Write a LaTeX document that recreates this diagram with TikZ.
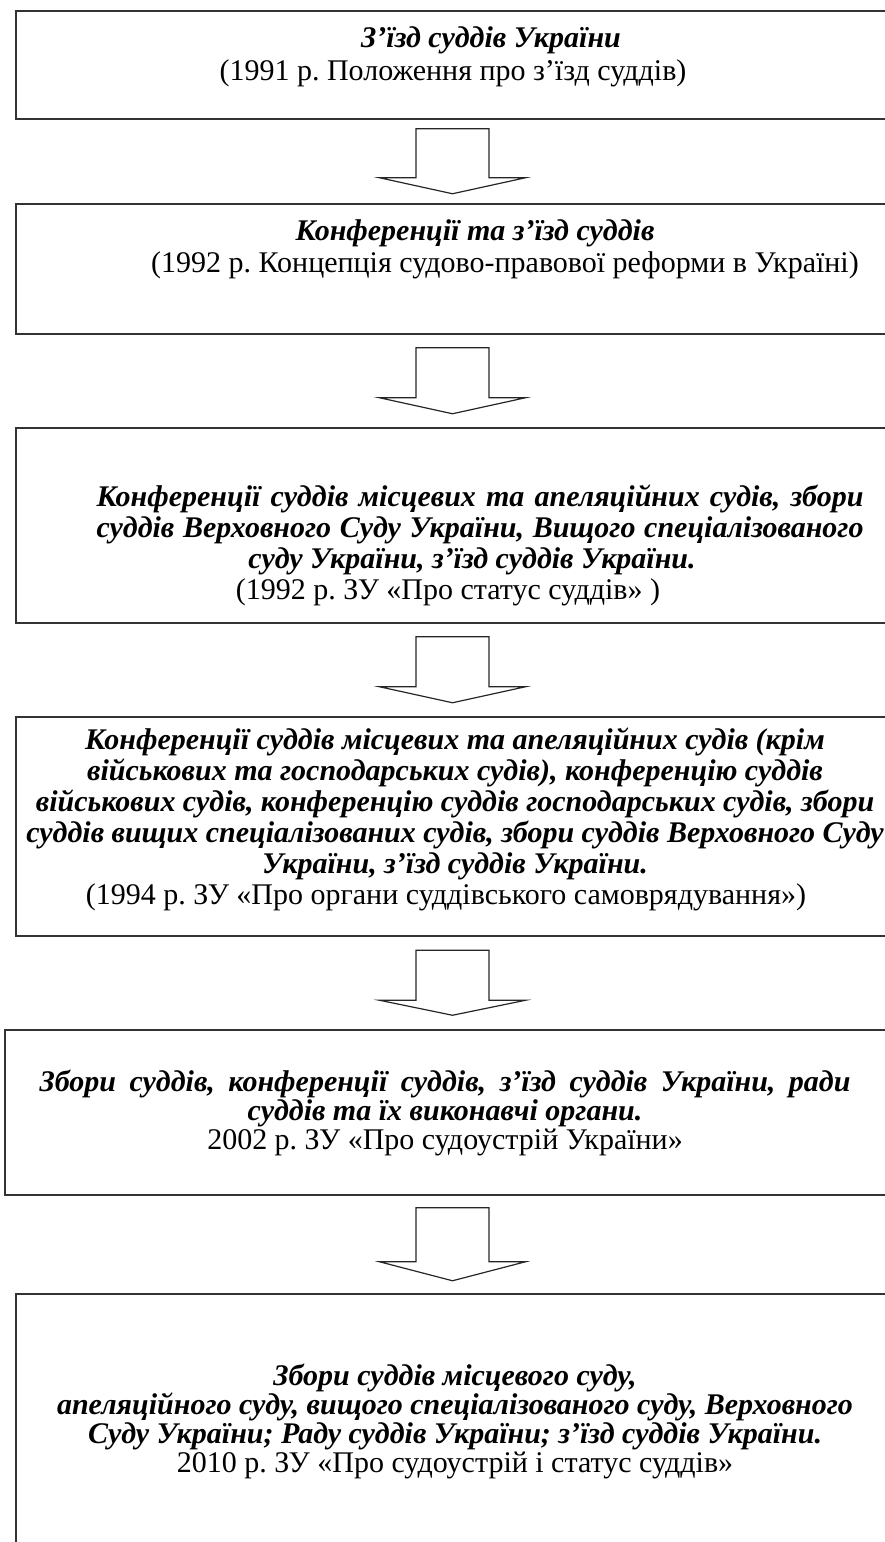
\documentclass[tikz,border=0pt]{standalone}
\usepackage{fontspec}
\setmainfont{Liberation Serif}
\usetikzlibrary{calc}

\begin{document}
\begin{tikzpicture}[x=1pt,y=-1pt,
    panel/.style={draw=black!80, line width=1.5pt, anchor=north west, minimum width=900pt, inner sep=0pt},
    body/.style={font=\fontsize{30}{31}\selectfont\frenchspacing\bfseries\itshape, align=center, inner sep=0pt},
    flow/.style={draw=black!85, line width=1.2pt, line join=miter}]
  \useasboundingbox (0,0) rectangle (885,1542);
  \clip (0,0) rectangle (885,1542);
  \coordinate (mid) at (452.5,0);
  % boxes run past the right edge of the page
  \node[panel, minimum height=108pt] (b1) at (15,10) {};
  \node[panel, minimum height=130pt] (b2) at (15,203) {};
  \node[panel, minimum height=195pt] (b3) at (15,427) {};
  \node[panel, minimum height=219pt] (b4) at (15,716) {};
  \node[panel, minimum height=165pt] (b5) at (4,1029) {};
  \node[panel, minimum height=300pt] (b6) at (15,1293) {};

  \node[body] (c1) at (472,57) {\hspace*{38pt}З’їзд суддів України\\[2pt]
    \mdseries\upshape (1991 р. Положення про з’їзд суддів)\hspace*{38pt}};
  \node[body] (c2) at (490,249) {Конференції та з’їзд суддів\hspace*{30pt}\\[1pt]
    \mdseries\upshape \hspace*{30pt}(1992 р. Концепція судово-правової реформи в Україні)};
  \node[body] (c3) at (464,545) {\hspace*{32pt}\makebox[767pt][s]{Конференції суддів місцевих та апеляційних судів, збори}\\
    \hspace*{32pt}\makebox[767pt][s]{суддів Верховного Суду України, Вищого спеціалізованого}\\
    \hspace*{16pt}суду України, з'їзд суддів України.\\
    \mdseries\upshape (1992 р. ЗУ «Про статус суддів» )\hspace*{32pt}};
  \node[body] (c4) at (451,819) {\hspace*{8pt}Конференції суддів місцевих та апеляційних судів (крім\\
    \hspace*{8pt}військових та господарських судів), конференцію суддів\\
    \hspace*{8pt}військових судів, конференцію суддів господарських судів, збори\\
    \hspace*{8pt}суддів вищих спеціалізованих судів, збори суддів Верховного Суду\\
    \hspace*{8pt}України, з'їзд суддів України.\\
    \mdseries\upshape (1994 р. ЗУ «Про органи суддівського самоврядування»)\hspace*{10pt}};
  \node[body, font=\fontsize{30}{29}\selectfont\frenchspacing\bfseries\itshape] (c5) at (445,1113)
    {\makebox[811pt][s]{Збори суддів, конференції суддів, з'їзд суддів України, ради}\\
    суддів та їх виконавчі органи.\\
    \mdseries\upshape 2002 р. ЗУ «Про судоустрій України»};
  \node[body, font=\fontsize{30}{29}\selectfont\frenchspacing\bfseries\itshape] (c6) at (455,1421)
    {Збори суддів місцевого суду,\\
    апеляційного суду, вищого спеціалізованого суду, Верховного\\
    Суду України; Раду суддів України; з’їзд суддів України.\\
    \mdseries\upshape 2010 р. ЗУ «Про судоустрій і статус суддів»};

  \foreach \pa/\pb/\s/\h in {b1/b2/49/16, b2/b3/50/16, b3/b4/50/16, b4/b5/50/15, b5/b6/54/19}
    \draw[flow] ($(\pa.south -| mid)!.5!(\pb.north -| mid)$) ++(-36.5,{-(\s+\h)/2})
      -- ++(73,0) -- ++(0,\s) -- ++(36.5,0) -- ++(-73,\h) -- ++(-73,-\h) -- ++(36.5,0) -- cycle;
\end{tikzpicture}
\end{document}
